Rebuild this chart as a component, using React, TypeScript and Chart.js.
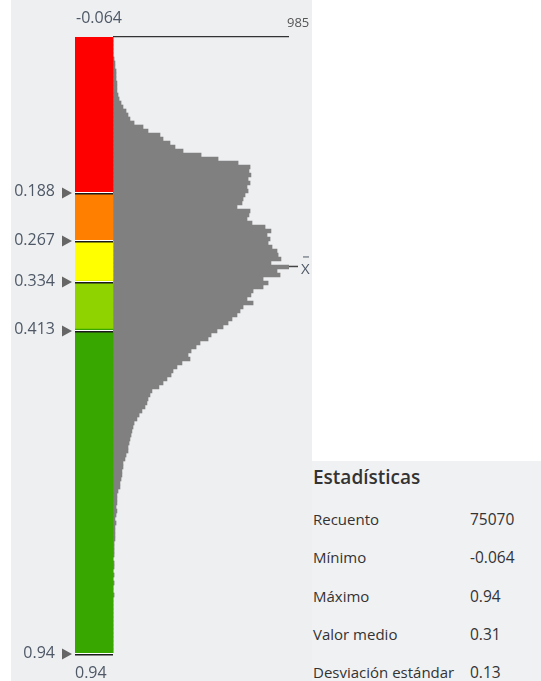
import React, { useEffect, useRef } from "react";
import { Chart, registerables } from "chart.js";

Chart.register(...registerables);

// ---- data ----
const valueMin = -0.064;
const valueMax = 0.94;
const maxCount = 985;
const meanValue = 0.31;
const breakValues = [0.188, 0.267, 0.334, 0.413, 0.94];
const breakLabels = ["0.188", "0.267", "0.334", "0.413", "0.94"];
const classColors = ["#ff0000", "#ff8000", "#ffff00", "#8fd400", "#38a800"];
const binCounts = [
  0, 0, 0, 0, 0, 6, 11, 11, 17, 17,
  17, 22, 22, 22, 28, 34, 45, 56, 73, 84,
  95, 118, 168, 196, 263, 280, 319, 347, 392, 493,
  588, 700, 767, 761, 772, 756, 767, 750, 756, 739,
  728, 722, 694, 767, 761, 750, 778, 851, 884, 862,
  879, 868, 890, 918, 924, 940, 884, 985, 918, 935,
  840, 868, 840, 784, 772, 750, 784, 728, 711, 694,
  666, 644, 616, 582, 549, 532, 487, 465, 437, 420,
  431, 386, 358, 336, 325, 302, 280, 257, 218, 207,
  196, 190, 179, 162, 146, 134, 118, 112, 106, 101,
  95, 90, 84, 84, 73, 67, 56, 56, 50, 50,
  45, 39, 39, 28, 22, 22, 22, 17, 22, 17,
  11, 17, 11, 11, 11, 11, 6, 6, 6, 6,
  0, 6, 6, 0, 6, 0, 6, 0, 0, 6,
  0, 0, 0, 0, 0, 0, 0, 0, 0, 0,
  0, 0, 0, 0,
];
const statTitle = "Estadísticas";
const statLabels = ["Recuento", "Mínimo", "Máximo", "Valor medio", "Desviación estándar"];
const statValues = ["75070", "-0.064", "0.94", "0.31", "0.13"];

// ---- layout constants ----
const FONT = "'Open Sans', 'Noto Sans', sans-serif";
const CANVAS_W = 312;
const CANVAS_H = 681;
const RAMP_PX = 38;
const HIST_PX = 176;

function classColor(v: number): string {
  for (let i = 0; i < breakValues.length; i++) {
    if (v <= breakValues[i]) return classColors[i];
  }
  return classColors[classColors.length - 1];
}

const overlayPlugin = {
  id: "overlay",
  afterDatasetsDraw(chart: any) {
    const { ctx, chartArea, scales } = chart;
    const xs = scales.x;
    const ys = scales.y;
    const xL = chartArea.left;
    const x0 = xs.getPixelForValue(0);
    const xPeak = xs.getPixelForValue(maxCount);
    ctx.save();
    // top max line
    ctx.strokeStyle = "#333333";
    ctx.lineWidth = 1.2;
    ctx.beginPath();
    ctx.moveTo(x0, chartArea.top - 0.3);
    ctx.lineTo(xPeak, chartArea.top - 0.3);
    ctx.stroke();
    // separators + markers
    breakValues.forEach((v) => {
      const y = Math.round(ys.getPixelForValue(v));
      ctx.fillStyle = "#ffffff";
      ctx.fillRect(xL, y, x0 - xL, 1);
      ctx.fillStyle = "#1a1a1a";
      ctx.fillRect(xL, y + 1, x0 - xL, 1.5);
      ctx.fillStyle = "#666666";
      ctx.beginPath();
      ctx.moveTo(xL - 3, y + 1);
      ctx.lineTo(xL - 13, y - 4.5);
      ctx.lineTo(xL - 13, y + 6.5);
      ctx.closePath();
      ctx.fill();
    });
    // texts
    ctx.fillStyle = "#4e5866";
    ctx.textBaseline = "alphabetic";
    ctx.textAlign = "left";
    ctx.font = `16px ${FONT}`;
    ctx.fillText(String(valueMin), xL + 1, chartArea.top - 14);
    ctx.fillText(String(valueMax), xL, chartArea.bottom + 25);
    ctx.fillStyle = "#555555";
    ctx.font = `13px ${FONT}`;
    ctx.fillText(String(maxCount), xPeak - 2, chartArea.top - 10);
    // mean marker
    const ym = ys.getPixelForValue(meanValue);
    ctx.strokeStyle = "#444444";
    ctx.lineWidth = 1.5;
    ctx.beginPath();
    ctx.moveTo(xPeak, ym);
    ctx.lineTo(xPeak + 9, ym);
    ctx.stroke();
    ctx.fillStyle = "#4e5866";
    ctx.font = `15px ${FONT}`;
    ctx.fillText("X", xPeak + 12, ym + 8);
    ctx.lineWidth = 1;
    ctx.strokeStyle = "#4e5866";
    ctx.beginPath();
    ctx.moveTo(xPeak + 14, ym - 9.5);
    ctx.lineTo(xPeak + 20, ym - 9.5);
    ctx.stroke();
    ctx.restore();
  },
};

export default function App() {
  const ref = useRef<HTMLCanvasElement | null>(null);

  useEffect(() => {
    document.body.style.margin = "0";
    const canvas = ref.current;
    if (!canvas) return;
    const n = binCounts.length;
    const binW = (valueMax - valueMin) / n;
    const centers = binCounts.map((_, i) => valueMin + (i + 0.5) * binW);
    const xMin = -(maxCount * RAMP_PX) / HIST_PX;

    const chart = new Chart(canvas, {
      type: "bar",
      data: {
        datasets: [
          {
            label: "ramp",
            data: centers.map((c) => ({ x: [xMin, 0], y: c })) as any,
            backgroundColor: centers.map((c) => classColor(c)),
            borderWidth: 0,
            barPercentage: 1,
            categoryPercentage: 1,
            grouped: false,
          } as any,
          {
            label: "hist",
            data: binCounts.map((c, i) => ({ x: c, y: centers[i] })) as any,
            backgroundColor: "#808080",
            borderWidth: 0,
            barPercentage: 1,
            categoryPercentage: 1,
            grouped: false,
          } as any,
        ],
      },
      options: {
        indexAxis: "y",
        animation: false,
        responsive: false,
        maintainAspectRatio: false,
        layout: { padding: { left: 0, top: 37, right: CANVAS_W - 289, bottom: CANVAS_H - 653 } },
        plugins: { legend: { display: false }, tooltip: { enabled: false } },
        scales: {
          x: { type: "linear", display: false, min: xMin, max: maxCount },
          y: {
            type: "linear",
            reverse: true,
            offset: false,
            min: valueMin,
            max: valueMax,
            grid: { display: false, drawTicks: false, offset: false },
            border: { display: false },
            ticks: {
              autoSkip: false,
              padding: 20,
              color: "#4e5866",
              font: { family: FONT, size: 16 },
              callback: (v: any) => {
                const i = breakValues.findIndex((b) => Math.abs(b - Number(v)) < 1e-9);
                return i >= 0 ? breakLabels[i] : "";
              },
            },
            afterBuildTicks: (s: any) => {
              s.ticks = breakValues.map((v) => ({ value: v }));
            },
            afterFit: (s: any) => {
              s.width = 75;
              s.paddingTop = 0;
              s.paddingBottom = 0;
            },
          } as any,
        },
      },
      plugins: [overlayPlugin],
    });
    return () => chart.destroy();
  }, []);

  const rowCenters = [58, 96, 135, 173, 211];
  return (
    <div style={{ position: "relative", width: 541, height: 681, overflow: "hidden", background: "#ffffff", fontFamily: FONT }}>
      <div style={{ position: "absolute", left: 11, top: 0, width: 301, height: 681, background: "#eeeff1" }} />
      <canvas ref={ref} width={CANVAS_W} height={CANVAS_H} style={{ position: "absolute", left: 0, top: 0, width: CANVAS_W, height: CANVAS_H }} />
      <div style={{ position: "absolute", left: 312, top: 461, width: 229, height: 220, background: "#f0f1f3", color: "#333333" }}>
        <div style={{ position: "absolute", left: 1, top: 16 - 13, lineHeight: "26px", fontSize: 19, fontWeight: 600, whiteSpace: "nowrap" }}>{statTitle}</div>
        {statLabels.map((l, i) => (
          <React.Fragment key={l}>
            <div style={{ position: "absolute", left: 1, top: rowCenters[i] - 11, lineHeight: "22px", fontSize: 15, whiteSpace: "nowrap" }}>{l}</div>
            <div style={{ position: "absolute", left: 158, top: rowCenters[i] - 11, lineHeight: "22px", fontSize: 15.5, whiteSpace: "nowrap" }}>{statValues[i]}</div>
          </React.Fragment>
        ))}
      </div>
    </div>
  );
}
